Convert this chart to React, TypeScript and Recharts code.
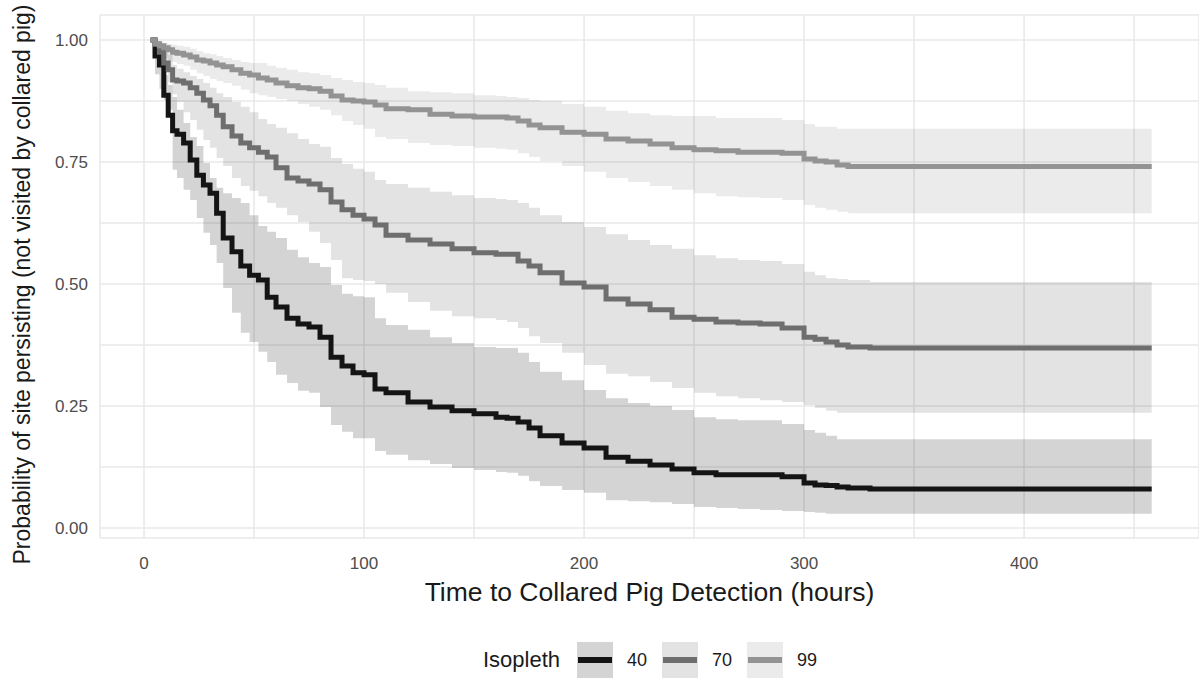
import React from 'react';
import {
  ComposedChart,
  Area,
  Line,
  XAxis,
  YAxis,
  CartesianGrid,
  Legend,
  Label,
} from 'recharts';

// Kaplan-Meier style estimates (hours -> probability)
const times = [
  3, 5, 7, 9, 11, 13, 15, 18, 21, 24, 27, 30, 33, 36, 40, 44, 48, 52, 56, 60,
  65, 70, 75, 80, 85, 90, 95, 100, 105, 110, 120, 130, 140, 150, 160, 165, 170,
  175, 180, 190, 200, 210, 220, 230, 240, 250, 260, 270, 280, 290, 300, 305,
  310, 315, 320, 330, 340, 458,
];

const surv40 = [
  1.0, 0.967, 0.949, 0.887, 0.846, 0.814, 0.807, 0.789, 0.754, 0.723, 0.703, 0.686, 0.645, 0.594,
  0.566, 0.537, 0.518, 0.508, 0.473, 0.453, 0.43, 0.418, 0.412, 0.391, 0.35, 0.332, 0.318, 0.314,
  0.285, 0.277, 0.258, 0.248, 0.24, 0.234, 0.227, 0.225, 0.217, 0.205, 0.189, 0.174, 0.164, 0.145,
  0.137, 0.129, 0.121, 0.113, 0.109, 0.109, 0.109, 0.105, 0.092, 0.088, 0.087, 0.084, 0.082, 0.08,
  0.08, 0.08,
];
const lower40 = [
  1.0, 0.93, 0.9, 0.877, 0.857, 0.734, 0.717, 0.693, 0.672, 0.635, 0.605, 0.58, 0.543, 0.492,
  0.441, 0.4, 0.381, 0.361, 0.34, 0.314, 0.297, 0.281, 0.277, 0.248, 0.211, 0.197, 0.184, 0.184,
  0.158, 0.15, 0.139, 0.131, 0.123, 0.119, 0.115, 0.113, 0.107, 0.096, 0.086, 0.078, 0.072, 0.057,
  0.055, 0.053, 0.049, 0.043, 0.041, 0.039, 0.037, 0.035, 0.033, 0.031, 0.029, 0.029, 0.029, 0.029,
  0.029, 0.029,
];
const upper40 = [
  1.0, 0.98, 0.959, 0.928, 0.908, 0.883, 0.857, 0.83, 0.801, 0.783, 0.748, 0.717, 0.697, 0.686,
  0.676, 0.666, 0.641, 0.619, 0.607, 0.594, 0.57, 0.555, 0.543, 0.535, 0.498, 0.48, 0.475, 0.473,
  0.43, 0.416, 0.406, 0.391, 0.379, 0.371, 0.369, 0.369, 0.359, 0.34, 0.32, 0.303, 0.283, 0.266,
  0.256, 0.25, 0.242, 0.227, 0.223, 0.221, 0.221, 0.213, 0.201, 0.195, 0.189, 0.182, 0.182, 0.182,
  0.182, 0.182,
];

const surv70 = [
  1.0, 0.992, 0.975, 0.953, 0.939, 0.918, 0.916, 0.912, 0.902, 0.891, 0.877, 0.865, 0.846, 0.822,
  0.803, 0.789, 0.779, 0.77, 0.76, 0.738, 0.717, 0.711, 0.705, 0.693, 0.668, 0.652, 0.641, 0.633,
  0.621, 0.6, 0.59, 0.582, 0.572, 0.564, 0.561, 0.561, 0.547, 0.537, 0.523, 0.502, 0.494, 0.469,
  0.459, 0.447, 0.432, 0.428, 0.422, 0.42, 0.418, 0.41, 0.391, 0.387, 0.381, 0.375, 0.371, 0.369,
  0.369, 0.369,
];
const lower70 = [
  1.0, 0.98, 0.955, 0.934, 0.914, 0.889, 0.873, 0.852, 0.836, 0.816, 0.795, 0.779, 0.758, 0.742,
  0.717, 0.701, 0.691, 0.68, 0.666, 0.656, 0.641, 0.627, 0.607, 0.584, 0.549, 0.512, 0.508, 0.506,
  0.5, 0.482, 0.463, 0.445, 0.434, 0.43, 0.426, 0.422, 0.41, 0.393, 0.379, 0.359, 0.334, 0.316,
  0.311, 0.299, 0.287, 0.277, 0.27, 0.266, 0.262, 0.258, 0.252, 0.246, 0.24, 0.236, 0.236, 0.236,
  0.236, 0.236,
];
const upper70 = [
  1.0, 0.996, 0.99, 0.98, 0.969, 0.949, 0.941, 0.934, 0.926, 0.92, 0.912, 0.902, 0.891, 0.883,
  0.873, 0.863, 0.852, 0.838, 0.828, 0.82, 0.809, 0.797, 0.787, 0.781, 0.758, 0.746, 0.736, 0.73,
  0.713, 0.705, 0.697, 0.689, 0.682, 0.676, 0.674, 0.672, 0.666, 0.656, 0.641, 0.627, 0.617, 0.602,
  0.59, 0.58, 0.572, 0.559, 0.553, 0.549, 0.547, 0.541, 0.525, 0.518, 0.512, 0.51, 0.508, 0.504,
  0.504, 0.504,
];

const surv99 = [
  1.0, 0.992, 0.988, 0.984, 0.98, 0.975, 0.973, 0.969, 0.965, 0.959, 0.957, 0.953, 0.949, 0.945,
  0.939, 0.932, 0.928, 0.922, 0.918, 0.912, 0.906, 0.902, 0.9, 0.895, 0.885, 0.877, 0.875, 0.873,
  0.867, 0.859, 0.857, 0.848, 0.844, 0.842, 0.842, 0.84, 0.834, 0.826, 0.82, 0.811, 0.807, 0.797,
  0.793, 0.787, 0.779, 0.775, 0.773, 0.77, 0.77, 0.768, 0.756, 0.752, 0.75, 0.744, 0.741, 0.741,
  0.741, 0.741,
];
const lower99 = [
  1.0, 0.98, 0.971, 0.963, 0.957, 0.955, 0.951, 0.947, 0.939, 0.932, 0.926, 0.92, 0.916, 0.912,
  0.906, 0.898, 0.891, 0.887, 0.883, 0.879, 0.875, 0.869, 0.863, 0.857, 0.846, 0.834, 0.826, 0.818,
  0.801, 0.797, 0.789, 0.785, 0.783, 0.779, 0.777, 0.775, 0.768, 0.76, 0.752, 0.742, 0.73, 0.717,
  0.709, 0.701, 0.693, 0.686, 0.68, 0.678, 0.676, 0.672, 0.662, 0.656, 0.652, 0.648, 0.645, 0.645,
  0.645, 0.645,
];
const upper99 = [
  1.0, 0.998, 0.996, 0.994, 0.992, 0.99, 0.988, 0.986, 0.982, 0.977, 0.973, 0.971, 0.967, 0.963,
  0.959, 0.955, 0.953, 0.953, 0.947, 0.943, 0.939, 0.934, 0.932, 0.928, 0.922, 0.918, 0.914, 0.912,
  0.908, 0.902, 0.895, 0.893, 0.891, 0.887, 0.885, 0.883, 0.881, 0.877, 0.875, 0.869, 0.863, 0.855,
  0.85, 0.846, 0.844, 0.844, 0.84, 0.84, 0.84, 0.836, 0.828, 0.822, 0.822, 0.818, 0.818, 0.818,
  0.818, 0.818,
];

const isopleths = ['40', '70', '99'];
const lineColors = ['#141414', '#6e6e6e', '#939393'];
const bandAlpha = [0.17, 0.11, 0.078];

const xTicks = [0, 50, 100, 150, 200, 250, 300, 350, 400, 450];
const yTicks = [0, 0.125, 0.25, 0.375, 0.5, 0.625, 0.75, 0.875, 1];

const data = times.map((t, i) => ({
  t,
  s40: surv40[i],
  s70: surv70[i],
  s99: surv99[i],
  band40: [lower40[i], upper40[i]],
  band70: [lower70[i], upper70[i]],
  band99: [lower99[i], upper99[i]],
}));

const FONT = '"Liberation Sans", Arial, sans-serif';

const renderLegend = () => (
  <div
    style={{
      height: 60,
      display: 'flex',
      alignItems: 'flex-end',
      paddingLeft: 483,
      fontFamily: FONT,
    }}
  >
    <div style={{ display: 'flex', alignItems: 'center', height: 36 }}>
      <span style={{ fontSize: 22, color: '#1a1a1a', marginRight: 17 }}>Isopleth</span>
      {isopleths.map((name, i) => (
        <React.Fragment key={name}>
          <svg width={36} height={36} style={{ display: 'block' }}>
            <rect x={0} y={0} width={36} height={36} fill="#000" fillOpacity={bandAlpha[i]} />
            <line x1={1} x2={35} y1={18} y2={18} stroke={lineColors[i]} strokeWidth={6} />
          </svg>
          <span style={{ fontSize: 18, color: '#1a1a1a', marginLeft: 14, marginRight: 15, width: 20 }}>
            {name}
          </span>
        </React.Fragment>
      ))}
    </div>
  </div>
);

export default function App() {
  return (
    <div style={{ position: 'fixed', left: 0, top: 0, fontFamily: FONT, background: '#fff' }}>
      <ComposedChart
        width={1199}
        height={679}
        data={data}
        margin={{ top: 15, right: 0, bottom: 1, left: 0 }}
      >
        <CartesianGrid stroke="#e8e8e8" strokeWidth={1.5} />
        <XAxis
          dataKey="t"
          type="number"
          domain={[-20, 479.5]}
          allowDataOverflow
          ticks={xTicks}
          tickFormatter={(v: number) => (v % 100 === 0 ? String(v) : '')}
          axisLine={false}
          tickLine={false}
          tickSize={6}
          tickMargin={13}
          height={80}
          tick={{ fill: '#4d4d4d', fontSize: 17, fontFamily: FONT }}
        >
          <Label
            content={(props: any) => {
              const vb = props.viewBox || {};
              return (
                <text
                  x={vb.x + vb.width / 2}
                  y={vb.y + 54}
                  textAnchor="middle"
                  dominantBaseline="central"
                  fontSize={26.5}
                  fill="#1a1a1a"
                  fontFamily={FONT}
                >
                  Time to Collared Pig Detection (hours)
                </text>
              );
            }}
          />
        </XAxis>
        <YAxis
          type="number"
          domain={[-0.0205, 1.0512]}
          allowDataOverflow
          ticks={yTicks}
          tickFormatter={(v: number) => (Math.round(v * 1000) % 250 === 0 ? v.toFixed(2) : '')}
          axisLine={false}
          tickLine={false}
          tickSize={6}
          tickMargin={6}
          width={100}
          tick={{ fill: '#4d4d4d', fontSize: 17, fontFamily: FONT }}
        >
          <Label
            content={(props: any) => {
              const vb = props.viewBox || {};
              const cx = vb.x + 22;
              const cy = vb.y + vb.height / 2 + 8;
              return (
                <text
                  x={cx}
                  y={cy}
                  transform={`rotate(-90, ${cx}, ${cy})`}
                  textAnchor="middle"
                  dominantBaseline="central"
                  fontSize={23}
                  fill="#1a1a1a"
                  fontFamily={FONT}
                >
                  Probability of site persisting (not visited by collared pig)
                </text>
              );
            }}
          />
        </YAxis>
        {isopleths.map((name, i) => (
          <Area
            key={`band${name}`}
            dataKey={`band${name}`}
            type="stepAfter"
            stroke="none"
            fill="#000"
            fillOpacity={bandAlpha[i]}
            isAnimationActive={false}
            legendType="none"
          />
        ))}
        {isopleths.map((name, i) => (
          <Line
            key={`s${name}`}
            dataKey={`s${name}`}
            name={name}
            type="stepAfter"
            stroke={lineColors[i]}
            strokeWidth={5}
            dot={false}
            activeDot={false}
            isAnimationActive={false}
          />
        ))}
        <Legend verticalAlign="bottom" height={60} content={renderLegend} />
      </ComposedChart>
    </div>
  );
}
